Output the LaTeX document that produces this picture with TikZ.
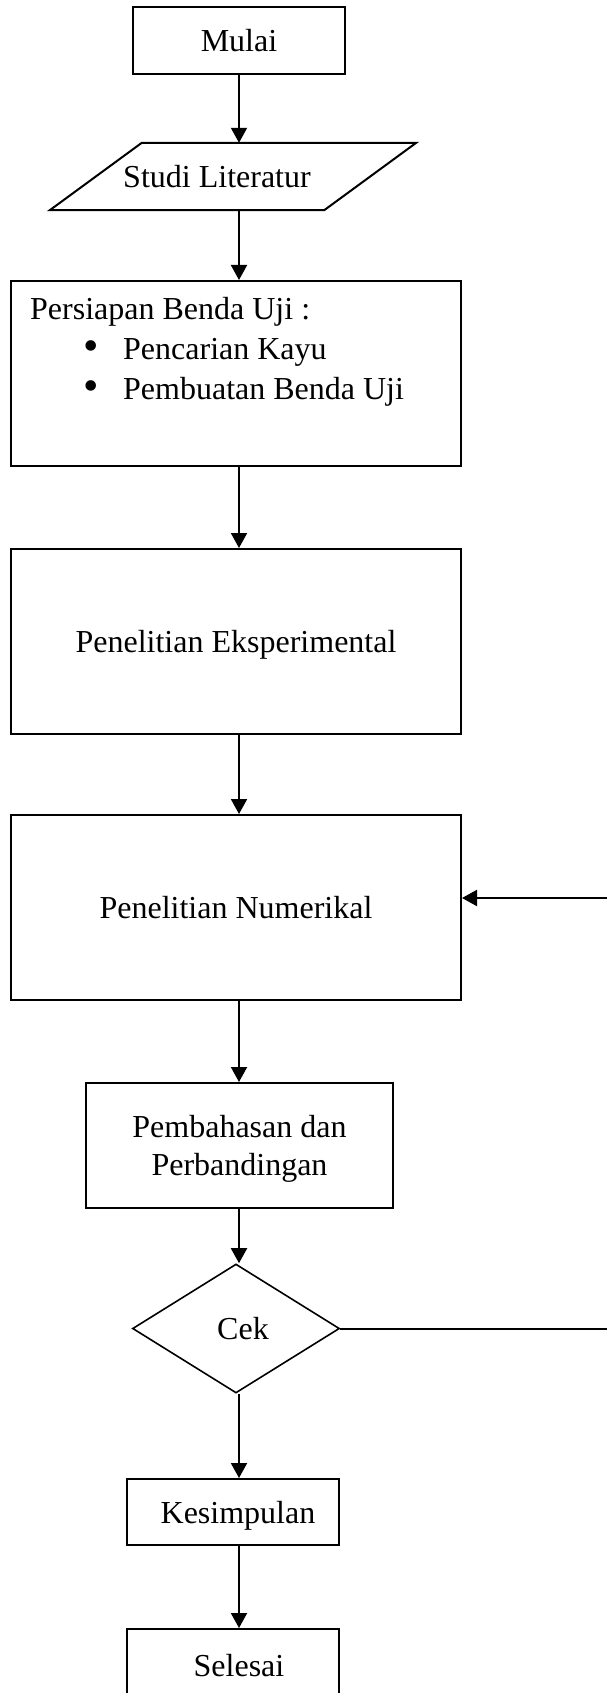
\documentclass[tikz,border=0pt]{standalone}
\usepackage{fontspec}
\setmainfont{Liberation Serif}
\usepackage{tikz}
\usetikzlibrary{arrows.meta}
\usetikzlibrary{shapes.geometric}
\usetikzlibrary{calc}
\usetikzlibrary{positioning}
\tikzstyle{proses}=[rectangle, draw=black, line width=2pt, inner sep=0pt, text centered, text depth=0pt]
\tikzstyle{data}=[rectangle, inner sep=0pt, text centered, text depth=0pt]
\tikzstyle{keputusan}=[diamond, draw=black, line width=1.6pt, inner sep=0pt, aspect=1.6, text depth=0pt]
\tikzstyle{tran}=[draw, -{Triangle[length=15pt,width=16pt]}, line width=2pt]
\tikzstyle{garis}=[draw, line width=2pt]
\newcommand{\butir}{\makebox[40pt][l]{\raisebox{-1pt}{\fontsize{44}{40}\selectfont\textbullet}}}
\begin{document}
\begin{tikzpicture}[x=1pt, y=-1pt, font=\fontsize{32}{38}\selectfont]

\useasboundingbox (0,0) rectangle (607,1693);

\node[proses, minimum width=212, minimum height=67] (mulai) at (239,40.5) {Mulai};

\node[data, minimum width=274, minimum height=67] (studi) at (233,176.5) {Studi Literatur\hspace*{32pt}};
\draw[garis] ($(studi.north west)+(46,0)$) -- ($(studi.north east)+(46,0)$)
  -- ($(studi.south east)+(-46,0)$) -- ($(studi.south west)+(-46,0)$) -- cycle;

\node[proses, minimum width=450, minimum height=185] (persiapan) at (236,373.5) {};
\node[anchor=north west, inner sep=0pt, align=left, font=\fontsize{32}{40}\selectfont] (persiapanteks) at (30,297)
{Persiapan Benda Uji :\\
\hspace*{53pt}\butir Pencarian Kayu\\
\hspace*{53pt}\butir Pembuatan Benda Uji};

\node[proses, minimum width=450, minimum height=185] (eksperimen) at (236,641.5) {Penelitian Eksperimental};

\node[proses, minimum width=450, minimum height=185] (numerik) at (236,907.5) {Penelitian Numerikal};

\node[proses, minimum width=307, minimum height=125, align=center] (bahas) at (239.5,1145.5)
{Pembahasan dan\\ Perbandingan};

\node[keputusan, minimum width=207, minimum height=129] (cek) at (236,1328.5) {\hspace*{14pt}Cek};

\node[proses, minimum width=212, minimum height=66] (simpul) at (233,1512) {\hspace*{10pt}Kesimpulan};

\node[proses, minimum width=212, minimum height=72] (selesai) at (233,1665) {\hspace*{12pt}Selesai};

\coordinate (balikatas) at (607,898);
\coordinate (balikbawah) at (607,1324);

\draw[tran] (mulai)                     to (studi.north -| mulai);
\draw[tran] (studi.south -| mulai)      to (persiapan.north -| mulai);
\draw[tran] (persiapan.south -| mulai)  to (eksperimen.north -| mulai);
\draw[tran] (eksperimen.south -| mulai) to (numerik.north -| mulai);
\draw[tran] (numerik.south -| mulai)    to (bahas.north -| mulai);
\draw[tran] (bahas.south -| mulai)      to (cek.north -| mulai);
\draw[tran] (cek.south -| mulai)        to (simpul.north -| mulai);
\draw[tran] (simpul.south -| mulai)     to (selesai.north -| mulai);

\draw[garis] (cek.east) to (cek.east -| balikbawah);
\draw[tran] (balikatas) to (balikatas -| numerik.east);

\end{tikzpicture}
\end{document}
